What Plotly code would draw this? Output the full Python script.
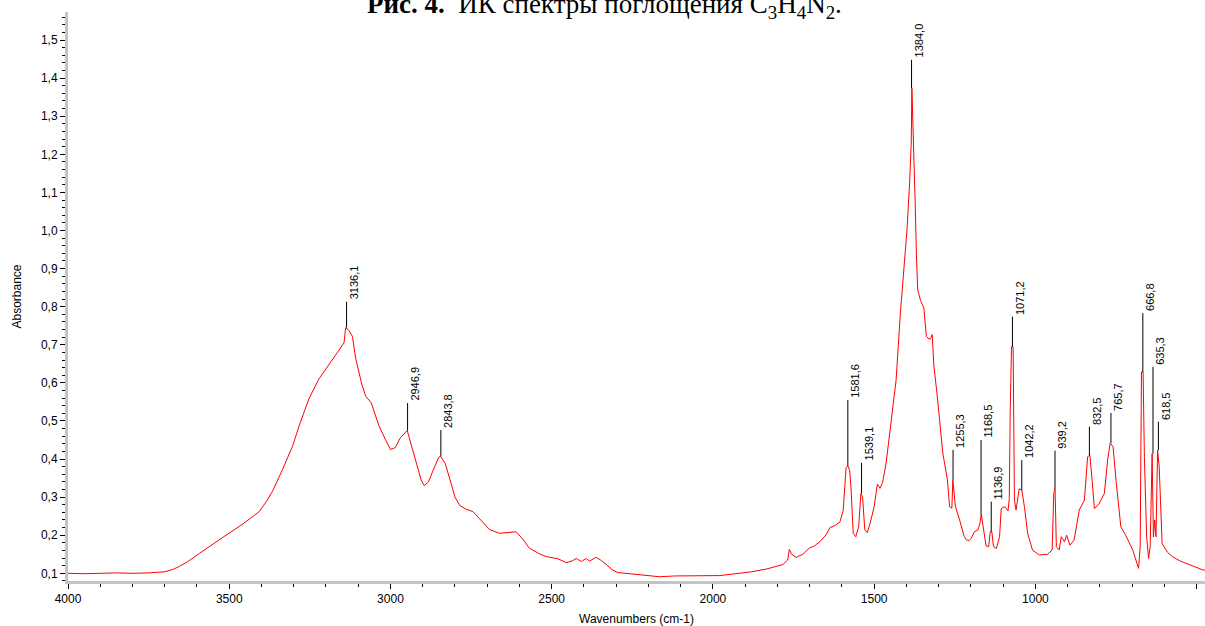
import plotly.graph_objects as go

# ---- spectrum data (wavenumber cm-1, absorbance) ----
wavenumber = [4000, 3950, 3900, 3850, 3800, 3750, 3700, 3675, 3655, 3630, 3593, 3550, 3510, 3460,
              3407, 3385, 3366, 3335, 3304, 3280, 3252, 3222, 3191, 3170, 3155, 3144, 3139, 3129,
              3118, 3108, 3090, 3077, 3060, 3050, 3036, 3015, 3000, 2985, 2970, 2948, 2936, 2920,
              2905, 2895, 2882, 2868, 2850, 2844, 2830, 2810, 2800, 2785, 2765, 2744, 2720, 2693,
              2662, 2640, 2610, 2590, 2569, 2540, 2517, 2480, 2455, 2435, 2424, 2408, 2393, 2383,
              2362, 2345, 2331, 2310, 2295, 2249, 2200, 2166, 2120, 2083, 2040, 1980, 1918, 1880,
              1835, 1800, 1783, 1768, 1763, 1756, 1742, 1721, 1701, 1685, 1669, 1650, 1637, 1620,
              1606, 1596, 1587, 1581, 1576, 1572, 1565, 1557, 1548, 1541, 1536, 1529, 1521, 1510,
              1500, 1490, 1482, 1474, 1463, 1448, 1432, 1419, 1406, 1398, 1390, 1385, 1383, 1380,
              1377, 1373, 1369, 1365, 1356, 1346, 1338, 1330, 1325, 1320, 1315, 1304, 1287, 1273,
              1266, 1259, 1256, 1252, 1248, 1235, 1221, 1214, 1205, 1199, 1189, 1178, 1172, 1168,
              1163, 1153, 1145, 1140, 1135, 1130, 1121, 1111, 1106, 1095, 1085, 1081, 1078, 1074,
              1069, 1065, 1060, 1055, 1050, 1042, 1034, 1024, 1009, 988, 962, 948, 943, 939,
              935, 926, 920, 910, 903, 893, 880, 864, 848, 838, 831, 824, 817, 802,
              786, 776, 768, 759, 750, 735, 720, 698, 680, 675, 671, 666, 662, 655,
              649, 644, 638, 634, 630, 626, 621, 616, 611, 607, 590, 574, 550, 533,
              510, 481, 474]
absorbance = [0.100, 0.099, 0.100, 0.101, 0.100, 0.101, 0.104, 0.110, 0.118, 0.130, 0.152, 0.178, 0.200, 0.228,
              0.262, 0.288, 0.315, 0.372, 0.433, 0.495, 0.560, 0.610, 0.648, 0.672, 0.693, 0.705, 0.745, 0.738,
              0.722, 0.665, 0.600, 0.565, 0.548, 0.525, 0.488, 0.450, 0.425, 0.430, 0.455, 0.475, 0.440, 0.390,
              0.345, 0.330, 0.340, 0.370, 0.405, 0.407, 0.388, 0.330, 0.300, 0.278, 0.268, 0.262, 0.240, 0.215,
              0.205, 0.207, 0.209, 0.190, 0.166, 0.152, 0.144, 0.138, 0.128, 0.133, 0.139, 0.131, 0.139, 0.132,
              0.142, 0.133, 0.122, 0.108, 0.102, 0.098, 0.094, 0.091, 0.093, 0.093, 0.094, 0.094, 0.100, 0.104,
              0.111, 0.118, 0.123, 0.135, 0.163, 0.150, 0.142, 0.150, 0.166, 0.172, 0.183, 0.200, 0.220, 0.226,
              0.235, 0.265, 0.378, 0.382, 0.370, 0.327, 0.205, 0.196, 0.222, 0.310, 0.301, 0.214, 0.207, 0.240,
              0.275, 0.334, 0.323, 0.338, 0.389, 0.494, 0.607, 0.779, 0.910, 1.004, 1.126, 1.230, 1.374, 1.300,
              1.230, 1.078, 0.938, 0.844, 0.816, 0.797, 0.722, 0.715, 0.716, 0.727, 0.647, 0.563, 0.415, 0.347,
              0.275, 0.271, 0.345, 0.301, 0.275, 0.240, 0.197, 0.188, 0.186, 0.192, 0.209, 0.214, 0.231, 0.256,
              0.231, 0.172, 0.170, 0.209, 0.209, 0.170, 0.165, 0.196, 0.270, 0.275, 0.264, 0.296, 0.528, 0.695,
              0.695, 0.292, 0.266, 0.292, 0.322, 0.318, 0.275, 0.205, 0.161, 0.148, 0.150, 0.161, 0.310, 0.323,
              0.170, 0.161, 0.196, 0.183, 0.200, 0.174, 0.187, 0.266, 0.292, 0.406, 0.410, 0.344, 0.270, 0.283,
              0.310, 0.397, 0.442, 0.432, 0.344, 0.222, 0.200, 0.161, 0.113, 0.170, 0.629, 0.629, 0.406, 0.196,
              0.139, 0.170, 0.414, 0.196, 0.240, 0.196, 0.423, 0.379, 0.240, 0.178, 0.155, 0.143, 0.132, 0.126,
              0.118, 0.109, 0.108]

# ---- peak labels ----
peak_wn = [3136.1, 2946.9, 2843.8, 1581.6, 1539.1, 1384.0, 1255.3, 1168.5, 1136.9,
           1071.2, 1042.2, 939.2, 832.5, 765.7, 666.8, 635.3, 618.5]
peak_abs = [0.745, 0.475, 0.407, 0.382, 0.310, 1.374, 0.345, 0.256, 0.209,
            0.695, 0.318, 0.323, 0.410, 0.442, 0.629, 0.414, 0.423]
peak_text = ["3136,1", "2946,9", "2843,8", "1581,6", "1539,1", "1384,0", "1255,3", "1168,5", "1136,9",
             "1071,2", "1042,2", "939,2", "832,5", "765,7", "666,8", "635,3", "618,5"]
label_top = [0.813, 0.547, 0.476, 0.555, 0.390, 1.448, 0.424, 0.450, 0.288,
             0.774, 0.397, 0.422, 0.485, 0.521, 0.783, 0.642, 0.498]

x_ticks = [4000, 3500, 3000, 2500, 2000, 1500, 1000, 500]

FONT = "Liberation Sans, Arial, sans-serif"

fig = go.Figure()
fig.add_trace(go.Scatter(x=wavenumber, y=absorbance, mode="lines",
                         line=dict(color="#ff0000", width=1), hoverinfo="x+y"))

# marker lines from peak to label
lx, ly = [], []
for w, a, t in zip(peak_wn, peak_abs, label_top):
    lx += [w, w, None]
    ly += [a, t, None]
fig.add_trace(go.Scatter(x=lx, y=ly, mode="lines", line=dict(color="black", width=1),
                         hoverinfo="skip"))

annotations = []
for w, t, s in zip(peak_wn, label_top, peak_text):
    annotations.append(dict(x=w, y=t, xref="x", yref="y", text=s, showarrow=False,
                            textangle=-90, xanchor="left", yanchor="bottom",
                            xshift=-1, font=dict(family=FONT, size=11, color="black")))

annotations.append(dict(xref="paper", yref="paper", x=0.472, y=1, xanchor="center",
                        yanchor="middle", yshift=6, showarrow=False,
                        text="<b>Рис. 4.</b>  ИК спектры поглощения C<sub>3</sub>H<sub>4</sub>N<sub>2</sub>.",
                        font=dict(family="Liberation Serif, Times New Roman, serif", size=27,
                                  color="black")))

fig.update_layout(
    width=1205, height=626,
    margin=dict(l=68, r=0, t=12, b=45),
    paper_bgcolor="white", plot_bgcolor="white",
    showlegend=False,
    separators=", ",
    font=dict(family=FONT, size=12, color="black"),
    annotations=annotations,
    xaxis=dict(range=[4000, 474], tickvals=x_ticks, ticks="outside", ticklen=5,
               tickcolor="black", tickwidth=1, showline=True, linecolor="#c4c4c4",
               linewidth=3, showgrid=False, zeroline=False,
               minor=dict(dtick=100, tick0=0, ticks="outside", ticklen=3, tickcolor="black",
                          showgrid=False),
               tickfont=dict(family=FONT, size=12),
               title=dict(text="Wavenumbers (cm-1)", font=dict(family=FONT, size=12),
                          standoff=12)),
    yaxis=dict(range=[0.0798, 1.5736], tick0=0.1, dtick=0.1, tickformat=".1f",
               ticks="outside", ticklen=5, tickcolor="black", tickwidth=1,
               showline=True, linecolor="#c4c4c4", linewidth=3, showgrid=False,
               zeroline=False,
               minor=dict(dtick=0.02, tick0=0.1, ticks="outside", ticklen=3,
                          tickcolor="black", showgrid=False),
               tickfont=dict(family=FONT, size=12),
               title=dict(text="Absorbance", font=dict(family=FONT, size=12), standoff=17)),
)

fig.write_html("out.html")
